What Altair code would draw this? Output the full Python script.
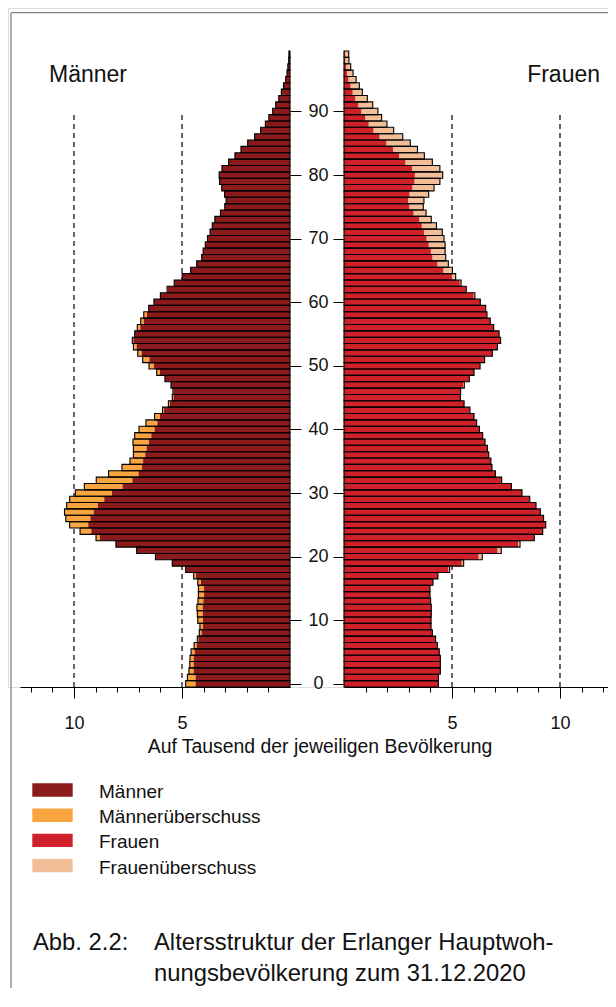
import altair as alt
import pandas as pd

# ---------------- data (per thousand of the respective population) -------------
ages = list(range(100))
maenner = [
    4.83, 4.75, 4.68, 4.64, 4.63, 4.58, 4.44, 4.29, 4.20, 4.17,
    4.27, 4.29, 4.31, 4.26, 4.24, 4.24, 4.27, 4.46, 4.83, 5.45,
    6.23, 7.10, 8.06, 8.98, 9.72, 10.20, 10.38, 10.44, 10.34, 10.20,
    9.94, 9.52, 8.97, 8.40, 7.78, 7.41, 7.25, 7.25, 7.27, 7.19,
    6.99, 6.67, 6.27, 5.90, 5.63, 5.45, 5.42, 5.51, 5.79, 6.17,
    6.53, 6.82, 7.05, 7.25, 7.30, 7.19, 7.07, 6.91, 6.77, 6.54,
    6.30, 6.00, 5.69, 5.36, 4.99, 4.60, 4.32, 4.09, 4.02, 3.92,
    3.82, 3.70, 3.60, 3.48, 3.22, 3.02, 2.96, 3.03, 3.16, 3.26,
    3.28, 3.15, 2.84, 2.55, 2.27, 1.96, 1.64, 1.36, 1.14, 0.98,
    0.80, 0.66, 0.52, 0.40, 0.30, 0.20, 0.14, 0.10, 0.06, 0.05,
]
frauen = [
    4.37, 4.37, 4.46, 4.46, 4.46, 4.41, 4.32, 4.24, 4.09, 4.03,
    4.03, 4.04, 4.04, 4.01, 3.98, 3.98, 4.12, 4.35, 4.89, 5.54,
    6.40, 7.28, 8.15, 8.81, 9.20, 9.34, 9.24, 9.09, 8.89, 8.60,
    8.24, 7.75, 7.30, 7.01, 6.85, 6.80, 6.70, 6.64, 6.53, 6.42,
    6.27, 6.14, 6.02, 5.83, 5.56, 5.39, 5.40, 5.57, 5.80, 6.02,
    6.30, 6.51, 6.87, 7.10, 7.25, 7.18, 6.93, 6.77, 6.62, 6.56,
    6.31, 6.06, 5.66, 5.42, 5.17, 5.02, 4.83, 4.71, 4.68, 4.68,
    4.63, 4.55, 4.28, 4.04, 3.80, 3.67, 3.70, 3.92, 4.17, 4.44,
    4.57, 4.44, 4.09, 3.72, 3.40, 3.07, 2.72, 2.30, 1.99, 1.74,
    1.57, 1.33, 1.08, 0.85, 0.71, 0.56, 0.42, 0.31, 0.23, 0.22,
]

kategorien = ["Männer", "Männerüberschuss", "Frauen", "Frauenüberschuss"]
farben = ["#8B1A1D", "#F8A540", "#CE2129", "#F2BE98"]

x_ticks = list(range(1, 13))
x_labels = [5, 10]
y_ticks = list(range(0, 100, 10))
ref_lines = [5, 10]

titel_m = "Männer"
titel_w = "Frauen"
achsentitel = "Auf Tausend der jeweiligen Bevölkerung"
abb = "Abb. 2.2:"
caption_1 = "Altersstruktur der Erlanger Hauptwoh-"
caption_2 = "nungsbevölkerung zum 31.12.2020"

# ---------------- tables ------------------------------------------------------
df = pd.DataFrame({"alter": ages, "m": maenner, "w": frauen})
df["lo"] = df["alter"] - 0.5
df["hi"] = df["alter"] + 0.5
df["gemeinsam"] = df[["m", "w"]].min(axis=1)

ref_df = pd.DataFrame({"v": ref_lines, "y0": -0.5, "y1": 90})
leg_df = pd.DataFrame({"kat": kategorien})
one = pd.DataFrame({"t": [0]})

# ---------------- layout (pixels inside the canvas) ----------------------------
W, H = 600, 679           # plot area; x axes sit on its bottom edge
PX = 21.6                 # pixels per unit (per mille)
M_ZERO = 282              # men's zero line, axis runs to the left
F_ZERO = 336              # women's zero line, axis runs to the right
M_MAX = 12.5
F_MAX = (W - F_ZERO) / PX
Y_BOTTOM, Y_TOP = 679, 43
FONT = "Liberation Sans"
INK = "#111"

color_scale = alt.Scale(domain=kategorien, range=farben)
ys = alt.Scale(domain=[-0.5, 99.5], range=[Y_BOTTOM, Y_TOP], nice=False, zero=False)
xl = alt.Scale(domain=[0, M_MAX], range=[M_ZERO, M_ZERO - M_MAX * PX], nice=False, zero=False)
xr = alt.Scale(domain=[0, F_MAX], range=[F_ZERO, W], nice=False, zero=False)

lab_test = " || ".join(f"datum.value === {v}" for v in x_labels)
tick_size = {"condition": {"test": lab_test, "value": 11}, "value": 5}

X_AXIS = alt.Axis(
    orient="bottom", values=x_ticks, title=None, grid=False,
    domainColor="black", domainWidth=1, tickColor="black", tickWidth=1,
    tickSize=tick_size, labelExpr=f"({lab_test}) ? datum.label : ''",
    labelFontSize=18, labelFont=FONT, labelColor=INK, labelPadding=16,
    labelFlush=False, labelOverlap=False,
)
Y_LEFT = alt.Axis(
    orient="right", offset=-(W - M_ZERO), values=y_ticks, title=None, grid=False,
    domain=False, tickSize=11, tickColor="black", tickWidth=1, labelPadding=17,
    labelAlign="center", labelBaseline="middle", labelFontSize=18, labelFont=FONT,
    labelColor=INK, labelOverlap=False,
)
Y_RIGHT = alt.Axis(
    orient="left", offset=-F_ZERO, values=y_ticks, title=None, grid=False,
    domain=False, tickSize=11, tickColor="black", tickWidth=1, labels=False,
)


def side(col, scale, kat_basis, kat_ueber, y_axis):
    X = lambda f: alt.X(f, scale=scale, axis=X_AXIS)
    Y = lambda f: alt.Y(f, scale=ys, axis=y_axis)
    base = alt.Chart(df)
    refs = alt.Chart(ref_df).mark_rule(
        color="black", strokeWidth=1.2, strokeDash=[5, 4]
    ).encode(x=X("v:Q"), y=Y("y0:Q"), y2="y1:Q")
    ueber = base.transform_calculate(kat=f"'{kat_ueber}'").mark_rect(strokeWidth=0).encode(
        x=X(f"{col}:Q"), x2="gemeinsam:Q", y=Y("lo:Q"), y2="hi:Q",
        color=alt.Color("kat:N", scale=color_scale, legend=None),
    )
    basis = base.transform_calculate(kat=f"'{kat_basis}'").mark_rect(strokeWidth=0).encode(
        x=X("gemeinsam:Q"), x2=alt.datum(0), y=Y("lo:Q"), y2="hi:Q",
        color=alt.Color("kat:N", scale=color_scale, legend=None),
    )
    outline = base.mark_rect(fillOpacity=0, stroke="black", strokeWidth=1.1).encode(
        x=X(f"{col}:Q"), x2=alt.datum(0), y=Y("lo:Q"), y2="hi:Q",
    )
    return alt.layer(refs, ueber, basis, outline)


men = side("m", xl, "Männer", "Männerüberschuss", Y_LEFT)
women = side("w", xr, "Frauen", "Frauenüberschuss", Y_RIGHT)

# legend drawn from the category list
leg_y = alt.Y(
    "kat:N",
    scale=alt.Scale(type="point", domain=kategorien, range=[782, 857.7], padding=0),
    axis=None,
)
leg_sym = alt.Chart(leg_df).mark_point(
    shape="M-1,-0.329H1V0.329H-1Z", size=1632, filled=True, opacity=1, strokeWidth=0
).encode(x=alt.value(44.5), y=leg_y, color=alt.Color("kat:N", scale=color_scale, legend=None))
leg_txt = alt.Chart(leg_df).mark_text(
    align="left", baseline="middle", dy=2, fontSize=19, font=FONT, color=INK
).encode(x=alt.value(91), y=leg_y, text="kat:N")
legend_block = alt.layer(leg_sym, leg_txt)


def text_layer(txt, x, y, size, align="left"):
    return alt.Chart(one).mark_text(
        text=txt, align=align, baseline="alphabetic", fontSize=size, font=FONT, color=INK
    ).encode(x=alt.value(x), y=alt.value(y))


frame_v = alt.Chart(one).mark_rule(color="#808080", strokeWidth=1.3).encode(
    x=alt.value(3), y=alt.value(4.7), y2=alt.value(980)
)
frame_h = alt.Chart(one).mark_rule(color="#808080", strokeWidth=1.3).encode(
    x=alt.value(3), x2=alt.value(W), y=alt.value(4.7)
)

deco = alt.layer(
    text_layer(titel_m, 41, 73.7, 23),
    text_layer(titel_w, 592, 73.7, 23, align="right"),
    text_layer(achsentitel, 312, 745, 19.4, align="center"),
    text_layer(abb, 25, 942, 23.8),
    text_layer(caption_1, 146, 942, 23.8),
    text_layer(caption_2, 146, 973, 23.8),
    frame_v, frame_h,
)

chart = alt.layer(men, women, legend_block, deco).resolve_scale(
    x="independent", y="independent"
).properties(
    width=W, height=H,
    autosize=alt.AutoSizeParams(type="none"),
    padding={"left": 0, "top": 0, "right": 0, "bottom": 301},
).configure_view(stroke=None).configure_axis(labelOverlap=False).configure(background="white")

chart.save("out.html", embed_options={"renderer": "svg", "actions": False})
